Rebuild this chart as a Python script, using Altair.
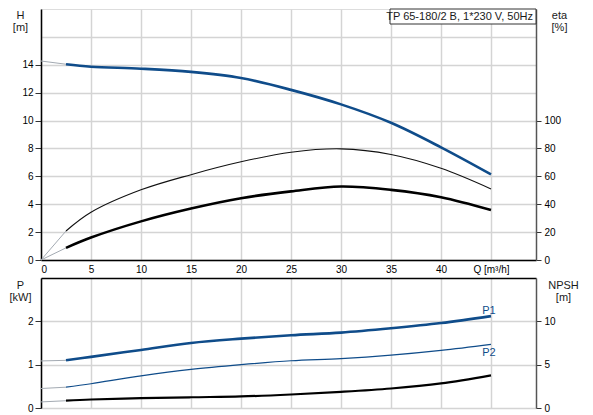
import altair as alt
import pandas as pd

# ---- data ----
Q = [0, 2.5, 5, 10, 15, 20, 25, 30, 35, 40, 45]
H = [14.27, 14.04, 13.86, 13.72, 13.49, 13.05, 12.2, 11.16, 9.84, 8.08, 6.14]
ETA_PUMP = [0, 20.8, 34.2, 50.3, 61.2, 70.4, 77.3, 79.7, 75.7, 65.8, 51.0]
ETA_TOTAL = [0, 8.7, 16.1, 27.7, 36.9, 44.3, 49.2, 52.7, 50.3, 45.0, 35.8]
P1 = [1.086, 1.10, 1.18, 1.34, 1.50, 1.60, 1.68, 1.74, 1.84, 1.96, 2.12]
P2 = [0.45, 0.48, 0.56, 0.74, 0.89, 1.00, 1.09, 1.14, 1.22, 1.33, 1.47]
NPSH = [0.70, 0.84, 0.98, 1.13, 1.24, 1.33, 1.56, 1.86, 2.25, 2.84, 3.77]

X_TICKS = [0, 5, 10, 15, 20, 25, 30, 35, 40, 45]
H_TICKS = [0, 2, 4, 6, 8, 10, 12, 14, 16]
ETA_TICKS = [0, 20, 40, 60, 80, 100]
P_TICKS = [0, 1, 2]
NPSH_TICKS = [0, 5, 10]
LABELS = ["P1", "P2"]
LABEL_Q = [44.8, 44.8]
LABEL_P = [2.25, 1.27]
TITLE = "TP 65-180/2 B, 1*230 V, 50Hz"

BLUE = "#0f4c8a"
LEAD = "#a3aab2"
GRID = "#d4d4d4"
TXT = "#1a1a1a"
FONT = "Liberation Sans"
W = 495

TITLE_STYLE = dict(titleAngle=0, titleAlign="center", titleBaseline="top",
                   titleLineHeight=12.5, titleFontWeight="normal", titleFont=FONT,
                   titleFontSize=11, titleColor=TXT)

def xenc(top):
    if top:
        ax = alt.Axis(values=X_TICKS, grid=True, gridColor=GRID, gridWidth=1.5,
                      ticks=False, labelPadding=4, domainColor="#000", domainWidth=1.5,
                      labelExpr="datum.value == 45 ? 'Q [m³/h]' : datum.label",
                      title=None)
    else:
        ax = alt.Axis(values=X_TICKS, grid=True, gridColor=GRID, gridWidth=1.5,
                      ticks=False, labels=False, orient="top", domainColor="#000",
                      domainWidth=1.5, title=None)
    return alt.X("Q:Q", scale=alt.Scale(domain=[0, 49.5], nice=False, zero=False), axis=ax)

def curve(vals, color, width, yenc, top):
    lead = alt.Chart(pd.DataFrame({"Q": Q[:2], "v": vals[:2]})).mark_line(
        color=LEAD, strokeWidth=1).encode(x=xenc(top), y=yenc)
    main = alt.Chart(pd.DataFrame({"Q": Q[1:], "v": vals[1:]})).mark_line(
        color=color, strokeWidth=width, interpolate="catmull-rom").encode(x=xenc(top), y=yenc)
    return [lead, main]

# ---- top panel ----
y_h = alt.Y("v:Q", scale=alt.Scale(domain=[0, 18], nice=False),
            axis=alt.Axis(values=H_TICKS, orient="left", grid=True, gridColor=GRID, gridWidth=1.5,
                          tickSize=6, labelPadding=2, domainColor="#000", domainWidth=1.5,
                          tickColor={"condition": {"test": "datum.value > 14", "value": "transparent"}, "value": "#333"},
                          labelExpr="datum.value > 14 ? '' : datum.label",
                          title=["H", "[m]"], titleX=-21, titleY=0, **TITLE_STYLE))
y_eta = alt.Y("v:Q", scale=alt.Scale(domain=[0, 180], nice=False),
              axis=alt.Axis(values=ETA_TICKS, orient="right", grid=False, tickSize=5,
                            labelPadding=3, domainColor="#555", domainWidth=1.5, tickColor="#333",
                            title=["eta", "[%]"], titleX=23, titleY=0, **TITLE_STYLE))

title_box = alt.Chart(pd.DataFrame({"t": [TITLE]})).mark_rect(
    fill="white", stroke="#333", strokeWidth=1).encode(
    x=alt.value(349), x2=alt.value(W), y=alt.value(0), y2=alt.value(15))
title_txt = alt.Chart(pd.DataFrame({"t": [TITLE]})).mark_text(
    align="right", baseline="top", font=FONT, fontSize=11, color=TXT).encode(
    text="t:N", x=alt.value(W - 3), y=alt.value(2))

top_left = alt.layer(*curve(H, BLUE, 2.6, y_h, True), title_box, title_txt)
top_right = alt.layer(*curve(ETA_PUMP, "#111", 1.1, y_eta, True),
                      *curve(ETA_TOTAL, "#000", 2.6, y_eta, True))
top = alt.layer(top_left, top_right).resolve_scale(y="independent").properties(width=W, height=251)

# ---- bottom panel ----
y_p = alt.Y("v:Q", scale=alt.Scale(domain=[0, 3], nice=False),
            axis=alt.Axis(values=P_TICKS, orient="left", grid=True, gridColor=GRID, gridWidth=1.5,
                          tickSize=6, labelPadding=2, domainColor="#000", domainWidth=1.5, tickColor="#333",
                          title=["P", "[kW]"], titleX=-21, titleY=1, **TITLE_STYLE))
y_n = alt.Y("v:Q", scale=alt.Scale(domain=[0, 15], nice=False),
            axis=alt.Axis(values=NPSH_TICKS, orient="right", grid=False, tickSize=5,
                          labelPadding=3, domainColor="#555", domainWidth=1.5, tickColor="#333",
                          title=["NPSH", "[m]"], titleX=27, titleY=1, **TITLE_STYLE))

lbl = alt.Chart(pd.DataFrame({"Q": LABEL_Q, "v": LABEL_P, "t": LABELS})).mark_text(
    font=FONT, fontSize=11, color=BLUE, align="center", baseline="middle").encode(
    x=xenc(False), y=y_p, text="t:N")

bot_left = alt.layer(*curve(P1, BLUE, 2.6, y_p, False), *curve(P2, BLUE, 1.2, y_p, False), lbl)
bot_right = alt.layer(*curve(NPSH, "#000", 2.2, y_n, False))
bottom = alt.layer(bot_left, bot_right).resolve_scale(y="independent").properties(width=W, height=130)

chart = alt.vconcat(top, bottom, spacing=18, bounds="flush").resolve_scale(
    x="independent").resolve_axis(x="independent").properties(
    padding={"left": 0, "top": 0, "right": 0, "bottom": 0}
).configure_view(stroke="#c8c8c8", strokeWidth=1.5).configure_axis(
    labelFont=FONT, labelFontSize=11, labelColor=TXT,
    titleFont=FONT, titleFontSize=11, titleColor=TXT, titleFontWeight="normal"
).configure(background="white")

chart.save("out.html", embed_options={"renderer": "svg", "actions": False})
